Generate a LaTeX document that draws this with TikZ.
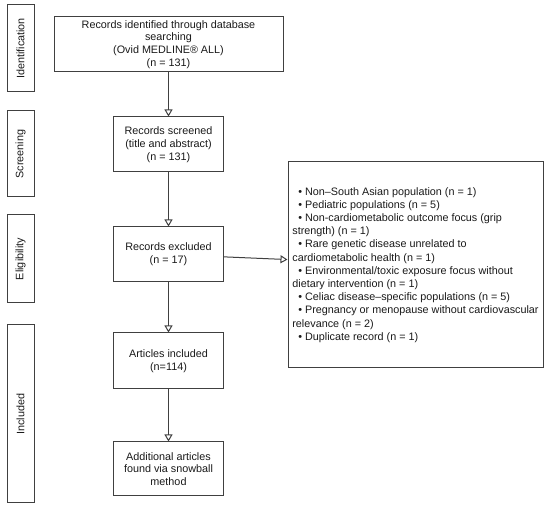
\documentclass[tikz,border=0pt]{standalone}
\usepackage{fontspec}
\setmainfont{Liberation Sans}
\usetikzlibrary{arrows.meta}
\definecolor{edge}{HTML}{404040}
\definecolor{ink}{HTML}{1A1A1A}
\tikzset{
  flowbox/.style={draw=edge, line width=1pt, fill=white, text=ink, align=center, inner sep=1pt,
    font=\fontsize{10.8}{12.8}\selectfont},
  phasebox/.style={draw=edge, line width=1pt, minimum width=27pt, text=ink,
    font=\fontsize{10.8}{12.8}\selectfont},
  phaselabel/.style={rotate=90, text=ink, font=\fontsize{10.8}{12.8}\selectfont},
  flowarrow/.style={draw=edge, line width=1pt, -{Triangle[open, length=7pt, width=8pt]}},
}
\begin{document}
\begin{tikzpicture}[x=1pt, y=-1pt]
\useasboundingbox (0,0) rectangle (550,510);
% phase boxes
\node[phasebox, minimum height=87pt] (pid) at (20.5,48.5) {};
\node[phaselabel] (lid) at (pid.center) {Identification};
\node[phasebox, minimum height=86pt] (psc) at (20.5,154) {};
\node[phaselabel] (lsc) at (psc.center) {Screening};
\node[phasebox, minimum height=88pt] (pel) at (20.5,259) {};
\node[phaselabel] (lel) at (pel.center) {Eligibility};
\node[phasebox, minimum height=178pt] (pin) at (20.5,414) {};
\node[phaselabel] (lin) at (pin.center) {Included};
% main boxes
\node[flowbox, minimum width=229pt, minimum height=55pt] (b1) at (168.5,44.5)
  {Records identified through database\\searching\\(Ovid MEDLINE® ALL)\\(n = 131)};
\node[flowbox, minimum width=110pt, minimum height=55pt] (b2) at (168.5,144.5)
  {Records screened\\(title and abstract)\\(n = 131)};
\node[flowbox, minimum width=110pt, minimum height=55pt] (b3) at (168.5,254.5)
  {Records excluded\\(n = 17)};
\node[flowbox, minimum width=110pt, minimum height=56pt] (b4) at (168.5,361)
  {Articles included\\(n=114)};
\node[flowbox, minimum width=110pt, minimum height=54pt] (b5) at (168.5,469)
  {Additional articles\\found via snowball\\method};
\node[flowbox, minimum width=255pt, minimum height=206pt, align=left, inner sep=2pt,
  font=\fontsize{10.8}{13.2}\selectfont] (ex) at (415.5,265)
  {\hspace{0.55em}• Non–South Asian population (n = 1)\\
   \hspace{0.55em}• Pediatric populations (n = 5)\\
   \hspace{0.55em}• Non-cardiometabolic outcome focus (grip\\
   strength) (n = 1)\\
   \hspace{0.55em}• Rare genetic disease unrelated to\\
   cardiometabolic health (n = 1)\\
   \hspace{0.55em}• Environmental/toxic exposure focus without\\
   dietary intervention (n = 1)\\
   \hspace{0.55em}• Celiac disease–specific populations (n = 5)\\
   \hspace{0.55em}• Pregnancy or menopause without cardiovascular\\
   relevance (n = 2)\\
   \hspace{0.55em}• Duplicate record (n = 1)};
% arrows
\draw[flowarrow] (b1) -- (b2);
\draw[flowarrow] (b2) -- (b3);
\draw[flowarrow] (b3) -- (b4);
\draw[flowarrow] (b4) -- (b5);
\draw[flowarrow] (b3) -- (ex);
\end{tikzpicture}
\end{document}
